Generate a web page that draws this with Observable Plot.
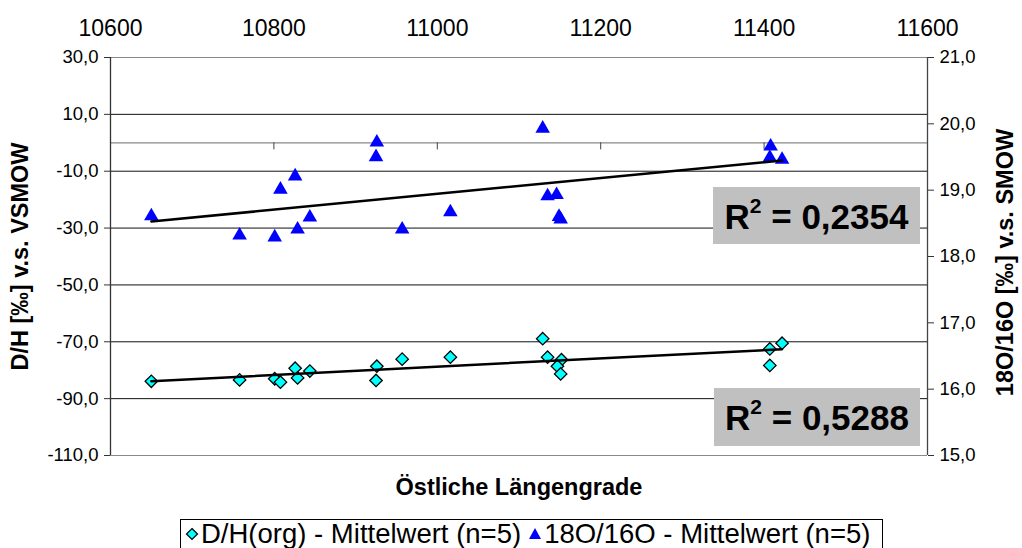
<!DOCTYPE html>
<html>
<head>
<meta charset="utf-8">
<script src="https://cdn.jsdelivr.net/npm/d3@7"></script>
<script src="https://cdn.jsdelivr.net/npm/@observablehq/plot@0.6"></script>
<style>
  html, body { margin: 0; padding: 0; background: #fff; }
  body { font-family: "Liberation Sans", Arial, sans-serif; }
  #wrap { position: relative; width: 1022px; height: 548px; overflow: hidden; }
  #chart svg { display: block; }
  .r2 { position: absolute; background: #c0c0c0; font-weight: bold; font-size: 35px; color: #000;
        display: flex; align-items: center; justify-content: center; line-height: 1; }
  .r2 sup { font-size: 21px; position: relative; top: -3px; }
  #legend { position: absolute; left: 180px; top: 519px; width: 703px; height: 30px; border: 1px solid #000;
            box-sizing: border-box; display: flex; align-items: center; font-size: 27.5px; white-space: nowrap; background: #fff; }
  #legend .item { display: flex; align-items: center; }
  #legend svg { display: block; }
</style>
</head>
<body>
<div id="wrap">
  <div id="chart"></div>
</div>
<script>
// ---- data ----
const lonDH = [10650, 10758, 10801, 10808, 10826, 10829, 10844, 10926, 10925, 10957, 11016, 11129, 11135, 11152, 11147, 11151, 11407, 11407, 11422];
const dhValues = [-83.9, -83.4, -83.0, -84.2, -79.3, -82.7, -80.3, -78.6, -83.6, -76.1, -75.4, -68.9, -75.4, -76.3, -78.6, -81.3, -72.5, -78.3, -70.5];
const lonO = [10650, 10758, 10801, 10808, 10826, 10829, 10844, 10926, 10925, 10957, 11016, 11129, 11135, 11146, 11149, 11151, 11408, 11407, 11422];
const o18Values = [18.61, 18.32, 18.29, 19.01, 19.21, 18.41, 18.59, 19.72, 19.50, 18.41, 18.67, 19.93, 18.91, 18.93, 18.60, 18.56, 19.66, 19.49, 19.46];

const xTicks = [10600, 10800, 11000, 11200, 11400, 11600];
const leftTicks = [30, 10, -10, -30, -50, -70, -90, -110];
const rightTicks = [21, 20, 19, 18, 17, 16, 15];
const seriesNames = ["D/H(org) - Mittelwert (n=5)", "18O/16O - Mittelwert (n=5)"];
const r2Labels = ["0,2354", "0,5288"];
const titles = { left: "D/H [‰] v.s. VSMOW", right: "18O/16O [‰] v.s. SMOW", x: "Östliche Längengrade" };

// ---- secondary axis mapping (right axis 15..21 onto left axis -110..30) ----
const leftDomain = [d3.min(leftTicks), d3.max(leftTicks)];
const rightDomain = [d3.min(rightTicks), d3.max(rightTicks)];
const toLeft = d3.scaleLinear().domain(rightDomain).range(leftDomain);
const fmt = v => v.toFixed(1).replace(".", ",");

const dhData = lonDH.map((x, i) => ({ x, y: dhValues[i] }));
const oData = lonO.map((x, i) => ({ x, y: toLeft(o18Values[i]) }));

const FONT = "Liberation Sans, Arial, sans-serif";
const inner = leftTicks.filter(d => d !== leftDomain[0] && d !== leftDomain[1]);

const chart = Plot.plot({
  width: 1022,
  height: 517,
  marginLeft: 110,
  marginRight: 95,
  marginTop: 57,
  marginBottom: 62,
  style: { fontFamily: FONT, background: "white", color: "black", overflow: "visible" },
  x: { domain: [d3.min(xTicks), d3.max(xTicks)] },
  y: { domain: leftDomain },
  marks: [
    Plot.ruleY(inner, { stroke: "#111", strokeWidth: 1 }),
    Plot.ruleY(leftDomain, { stroke: "#888", strokeWidth: 1.2 }),
    Plot.ruleY([0], { stroke: "#888", strokeWidth: 1.2 }),
    Plot.ruleX(xTicks, { x: d => d, y1: 0, y2: -2.5, stroke: "#444" }),
    Plot.ruleX([xTicks[0]], { stroke: "#333", strokeWidth: 1.3 }),
    Plot.ruleX([xTicks[xTicks.length - 1]], { stroke: "#444", strokeWidth: 1.3 }),
    Plot.axisY({ anchor: "left", ticks: leftTicks, tickFormat: fmt, tickSize: 6, tickPadding: 6, fontSize: 18.5, label: null, stroke: "#333" }),
    Plot.axisY({ anchor: "right", ticks: rightTicks.map(toLeft), tickFormat: d => fmt(toLeft.invert(d)), tickSize: 6, tickPadding: 6, fontSize: 18.5, label: null, stroke: "#333" }),
    Plot.axisX({ anchor: "top", ticks: xTicks, tickFormat: d => String(d), tickSize: 0, tickPadding: 22, fontSize: 23, label: null }),
    Plot.dot(dhData, { x: "x", y: "y", symbol: "diamond2", r: 5.6, fill: "#00FFFF", stroke: "#000", strokeWidth: 1.3 }),
    Plot.dot(oData, { x: "x", y: "y", symbol: "triangle", r: 5.4, fill: "#0000FF", stroke: "none" }),
    Plot.linearRegressionY(dhData, { x: "x", y: "y", ci: 0, stroke: "#000", strokeWidth: 2.5 }),
    Plot.linearRegressionY(oData, { x: "x", y: "y", ci: 0, stroke: "#000", strokeWidth: 2.5 }),
    Plot.text([titles.left], { text: d => d, frameAnchor: "left", textAnchor: "middle", dx: -90, rotate: -90, fontSize: 23.5, fontWeight: "bold", fontFamily: FONT }),
    Plot.text([titles.right], { text: d => d, frameAnchor: "right", textAnchor: "middle", dx: 78, dy: 6, rotate: -90, fontSize: 23.5, fontWeight: "bold", fontFamily: FONT }),
    Plot.text([titles.x], { text: d => d, frameAnchor: "bottom", dy: 39, fontSize: 23.5, fontWeight: "bold", fontFamily: FONT })
  ]
});
document.getElementById("chart").appendChild(chart);

// ---- R² labels ----
const wrap = document.getElementById("wrap");
const boxes = [
  { left: 713, top: 187, width: 207, height: 57 },
  { left: 714, top: 388, width: 206, height: 58 }
];
r2Labels.forEach((v, i) => {
  const b = document.createElement("div");
  b.className = "r2";
  Object.assign(b.style, { left: boxes[i].left + "px", top: boxes[i].top + "px", width: boxes[i].width + "px", height: boxes[i].height + "px" });
  b.innerHTML = `<span>R<sup>2</sup> = ${v}</span>`;
  wrap.appendChild(b);
});

// ---- legend ----
const legend = document.createElement("div");
legend.id = "legend";
legend.innerHTML = `
  <div class="item" style="margin-left:4px">
    <svg width="14" height="14" viewBox="-7 -7 14 14"><path d="M0,-5.5L5.5,0L0,5.5L-5.5,0Z" fill="#00FFFF" stroke="#000" stroke-width="1.2"/></svg>
    <span style="margin-left:2px">${seriesNames[0]}</span>
  </div>
  <div class="item" style="margin-left:7px">
    <svg width="14" height="14" viewBox="-7 -7 14 14"><path d="M0,-6L6,5L-6,5Z" fill="#0000FF"/></svg>
    <span style="margin-left:2px">${seriesNames[1]}</span>
  </div>`;
wrap.appendChild(legend);
</script>
</body>
</html>
